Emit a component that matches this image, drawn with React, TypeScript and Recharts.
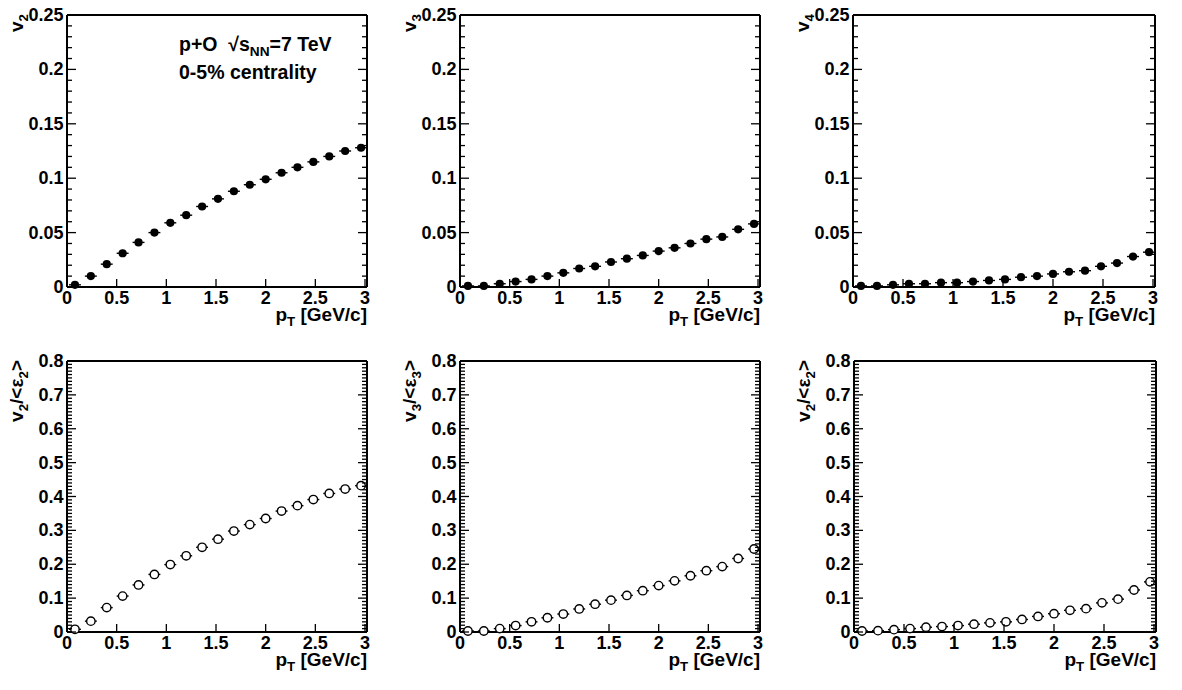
import { ScatterChart, Scatter, XAxis, YAxis, ErrorBar } from 'recharts';

// pT bin centres [GeV/c] and half-width of the horizontal bars
const PT = [0.08, 0.24, 0.4, 0.56, 0.72, 0.88, 1.04, 1.2, 1.36, 1.52, 1.68, 1.84, 2.0, 2.16, 2.32, 2.48, 2.64, 2.8, 2.96];
const PT_HALF_BIN = 0.06;

// flow harmonics, p+O 0-5%
const V2 = [0.002, 0.010, 0.021, 0.031, 0.041, 0.050, 0.059, 0.066, 0.074, 0.081, 0.088, 0.094, 0.099, 0.105, 0.110, 0.115, 0.120, 0.125, 0.128];
const V3 = [0.001, 0.001, 0.003, 0.005, 0.007, 0.010, 0.013, 0.017, 0.019, 0.023, 0.026, 0.029, 0.033, 0.036, 0.040, 0.044, 0.046, 0.053, 0.058];
const V4 = [0.001, 0.001, 0.002, 0.003, 0.003, 0.004, 0.004, 0.005, 0.006, 0.007, 0.009, 0.010, 0.012, 0.014, 0.015, 0.019, 0.022, 0.028, 0.032];

// scaled by the mean eccentricity
const V2_ECC = [0.008, 0.032, 0.072, 0.106, 0.139, 0.170, 0.199, 0.225, 0.250, 0.274, 0.298, 0.317, 0.335, 0.357, 0.373, 0.391, 0.409, 0.422, 0.432];
const V3_ECC = [0.003, 0.003, 0.010, 0.019, 0.030, 0.042, 0.053, 0.068, 0.082, 0.094, 0.108, 0.122, 0.137, 0.151, 0.166, 0.181, 0.193, 0.217, 0.245];
const V4_ECC = [0.003, 0.004, 0.007, 0.010, 0.014, 0.016, 0.019, 0.023, 0.027, 0.030, 0.037, 0.046, 0.054, 0.064, 0.069, 0.086, 0.097, 0.124, 0.148];

const X_TICKS = [0, 0.5, 1, 1.5, 2, 2.5, 3];
const V_TICKS = [0, 0.05, 0.1, 0.15, 0.2, 0.25];
const ECC_TICKS = [0, 0.1, 0.2, 0.3, 0.4, 0.5, 0.6, 0.7, 0.8];
const MINOR_STEP = 0.01;

const FONT = '"Liberation Sans", Arial, Helvetica, sans-serif';
const TXT = { fontFamily: FONT, fontWeight: 700, fill: '#000' } as const;
const LABEL_SIZE = 18;
const TITLE_SIZE = 19;
const NOTE_SIZE = 19.5;

// space around the axis box inside each chart
const ML = 67;
const MT = 15;
const MR = 20;
const MB = 50;

type Part = [string, string?];

function withMinor(major: number[], step: number): number[] {
  const out: number[] = [];
  const last = major[major.length - 1];
  for (let i = 0; i * step <= last + 1e-9; i++) out.push(+(i * step).toFixed(4));
  return out;
}

const isMajor = (v: number, majors: number[]) => majors.some((m) => Math.abs(m - v) < 1e-6);
const fmt = (v: number) => String(+v.toFixed(3));

function Parts({ parts, size }: { parts: Part[]; size: number }) {
  const shift = size * 0.28;
  const nodes: JSX.Element[] = [];
  let lowered = false;
  parts.forEach(([main, sub], i) => {
    nodes.push(<tspan key={`m${i}`} dy={lowered ? -shift : 0}>{main}</tspan>);
    lowered = false;
    if (sub) {
      nodes.push(<tspan key={`s${i}`} dy={shift} fontSize={size * 0.7}>{sub}</tspan>);
      lowered = true;
    }
  });
  return <>{nodes}</>;
}

// ---- ticks drawn inward, ROOT style ----
function LeftTick(props: any) {
  const { x, y, payload, majors } = props;
  const major = isMajor(payload.value, majors);
  return (
    <g>
      <line x1={x} y1={y} x2={x + (major ? 9 : 5)} y2={y} stroke="#000" strokeWidth={1.3} />
      {major && (
        <text x={x - 3.5} y={y} textAnchor="end" dominantBaseline="central" fontSize={LABEL_SIZE} style={TXT}>
          {fmt(payload.value)}
        </text>
      )}
    </g>
  );
}

function RightTick(props: any) {
  const { x, y, payload, majors } = props;
  const major = isMajor(payload.value, majors);
  return <line x1={x} y1={y} x2={x - (major ? 9 : 5)} y2={y} stroke="#000" strokeWidth={1.3} />;
}

function BottomTick(props: any) {
  const { x, y, payload } = props;
  return (
    <g>
      <line x1={x} y1={y} x2={x} y2={y - 8} stroke="#000" strokeWidth={1.3} />
      <text x={x} y={y + 17} textAnchor="middle" fontSize={LABEL_SIZE} style={TXT}>
        {fmt(payload.value)}
      </text>
    </g>
  );
}

function TopTick(props: any) {
  const { x, y } = props;
  return <line x1={x} y1={y} x2={x} y2={y + 8} stroke="#000" strokeWidth={1.3} />;
}

const FilledDot = (p: any) => <circle cx={p.cx} cy={p.cy} r={4.1} fill="#000" />;
const OpenDot = (p: any) => <circle cx={p.cx} cy={p.cy} r={4.2} fill="#fff" stroke="#000" strokeWidth={1.4} />;

interface PanelProps {
  left: number;
  top: number;
  w: number;
  h: number;
  values: number[];
  yTicks: number[];
  title: Part[];
  open?: boolean;
  note?: boolean;
}

function Panel({ left, top, w, h, values, yTicks, title, open, note }: PanelProps) {
  const data = PT.map((pt, i) => ({ pt, v: values[i], ptErr: PT_HALF_BIN }));
  const yMax = yTicks[yTicks.length - 1];
  const yAll = withMinor(yTicks, MINOR_STEP);
  const frame = { stroke: '#000', strokeWidth: 2 };

  // top and right axes are 1px thick so that they still get drawn
  return (
    <div style={{ position: 'absolute', left: left - ML, top: top - MT }}>
      <ScatterChart width={ML + w + MR} height={MT + h + MB} margin={{ top: MT - 1, right: MR - 1, left: 0, bottom: 0 }}>
        <XAxis
          xAxisId="b"
          dataKey="pt"
          type="number"
          domain={[0, 3]}
          ticks={X_TICKS}
          interval={0}
          height={MB}
          tickSize={0}
          tickMargin={0}
          tickLine={false}
          axisLine={frame}
          tick={<BottomTick />}
          label={{
            content: ({ viewBox }: any) => (
              <text x={viewBox.x + viewBox.width} y={viewBox.y + 34} textAnchor="end" fontSize={TITLE_SIZE} style={TXT}>
                <Parts parts={[['p', 'T'], ['\u00A0[GeV/c]']]} size={TITLE_SIZE} />
              </text>
            ),
          }}
        />
        <XAxis
          xAxisId="t"
          orientation="top"
          type="number"
          domain={[0, 3]}
          allowDataOverflow
          ticks={X_TICKS}
          interval={0}
          height={1}
          tickSize={0}
          tickMargin={0}
          tickLine={false}
          axisLine={frame}
          tick={<TopTick />}
          label={
            note
              ? {
                  content: ({ viewBox }: any) => (
                    <g>
                      <text x={viewBox.x + 112} y={viewBox.y + 37} fontSize={NOTE_SIZE} style={TXT}>
                        <Parts parts={[['p+O\u00A0\u00A0\u221As', 'NN'], ['=7 TeV']]} size={NOTE_SIZE} />
                      </text>
                      <text x={viewBox.x + 112} y={viewBox.y + 65} fontSize={NOTE_SIZE} style={TXT}>
                        0-5% centrality
                      </text>
                    </g>
                  ),
                }
              : undefined
          }
        />
        <YAxis
          yAxisId="l"
          dataKey="v"
          type="number"
          domain={[0, yMax]}
          ticks={yAll}
          interval={0}
          width={ML}
          tickSize={0}
          tickMargin={0}
          tickLine={false}
          axisLine={frame}
          tick={<LeftTick majors={yTicks} />}
          label={{
            content: ({ viewBox }: any) => {
              const tx = viewBox.x + viewBox.width - 44;
              const ty = viewBox.y - 1;
              return (
                <text x={tx} y={ty} textAnchor="end" transform={`rotate(-90, ${tx}, ${ty})`} fontSize={TITLE_SIZE} style={TXT}>
                  <Parts parts={title} size={TITLE_SIZE} />
                </text>
              );
            },
          }}
        />
        <YAxis
          yAxisId="r"
          orientation="right"
          type="number"
          domain={[0, yMax]}
          allowDataOverflow
          ticks={yAll}
          interval={0}
          width={1}
          tickSize={0}
          tickMargin={0}
          tickLine={false}
          axisLine={frame}
          tick={<RightTick majors={yTicks} />}
        />
        <Scatter xAxisId="b" yAxisId="l" data={data} dataKey="v" isAnimationActive={false} shape={open ? OpenDot : FilledDot}>
          <ErrorBar dataKey="ptErr" direction="x" width={0} stroke="#000" strokeWidth={1.4} isAnimationActive={false} />
        </Scatter>
      </ScatterChart>
    </div>
  );
}

export default function App() {
  return (
    <div style={{ position: 'absolute', left: 0, top: 0, width: 1182, height: 690, background: '#fff' }}>
      <Panel left={67} top={15} w={300} h={272} values={V2} yTicks={V_TICKS} title={[['v', '2']]} note />
      <Panel left={460} top={15} w={300} h={272} values={V3} yTicks={V_TICKS} title={[['v', '3']]} />
      <Panel left={853} top={15} w={302} h={272} values={V4} yTicks={V_TICKS} title={[['v', '4']]} />
      <Panel left={67} top={361} w={300} h={271} values={V2_ECC} yTicks={ECC_TICKS} title={[['v', '2'], ['/<\u03B5', '2'], ['>']]} open />
      <Panel left={460} top={361} w={300} h={271} values={V3_ECC} yTicks={ECC_TICKS} title={[['v', '3'], ['/<\u03B5', '3'], ['>']]} open />
      <Panel left={854} top={361} w={302} h={271} values={V4_ECC} yTicks={ECC_TICKS} title={[['v', '2'], ['/<\u03B5', '2'], ['>']]} open />
    </div>
  );
}
